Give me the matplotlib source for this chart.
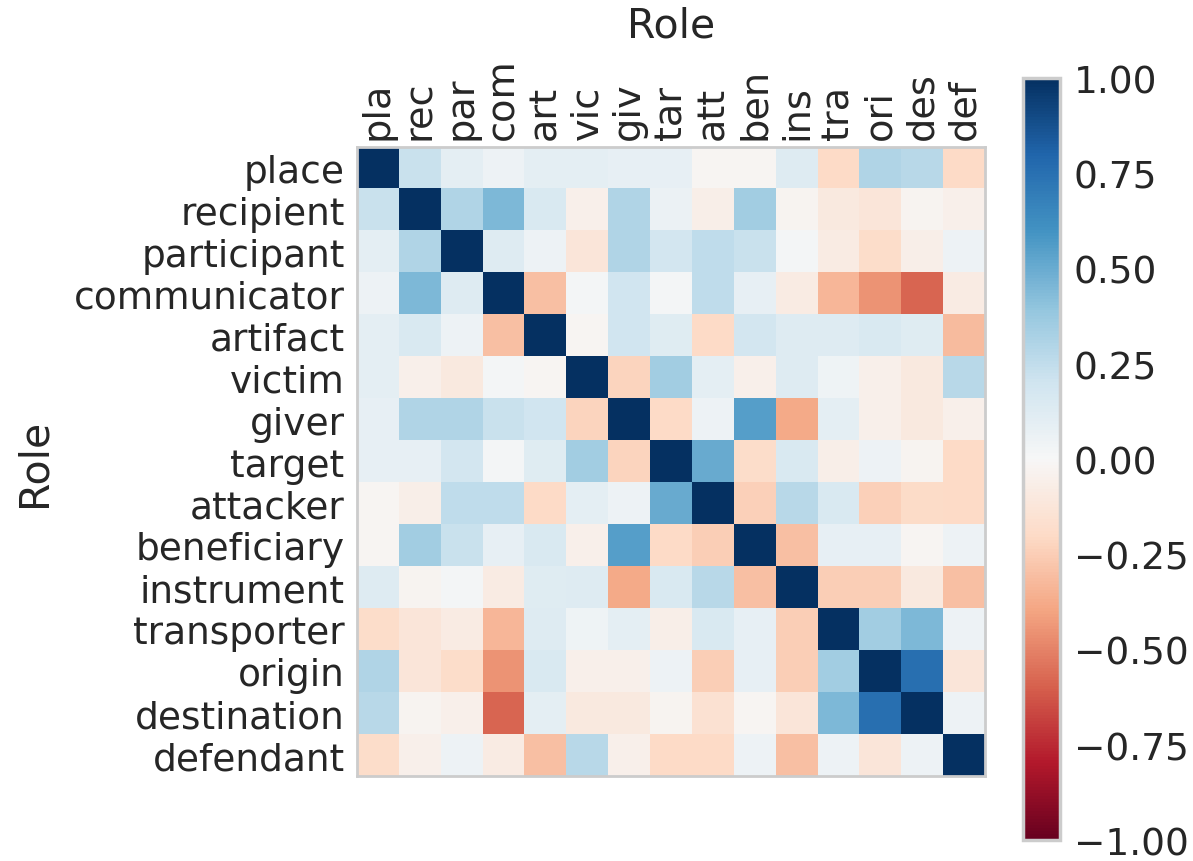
import numpy as np
import matplotlib
matplotlib.use("Agg")
import matplotlib.pyplot as plt
from matplotlib.ticker import FuncFormatter

# roles on both axes
roles = ["place", "recipient", "participant", "communicator", "artifact",
         "victim", "giver", "target", "attacker", "beneficiary",
         "instrument", "transporter", "origin", "destination", "defendant"]
short = [r[:3] for r in roles]

# correlation values (row = y role, col = x role)
r_place        = [1.00, 0.22, 0.10, 0.05, 0.10, 0.10, 0.08, 0.08, -0.02, -0.02, 0.13, -0.20, 0.30, 0.28, -0.20]
r_recipient    = [0.22, 1.00, 0.30, 0.45, 0.15, -0.05, 0.30, 0.06, -0.06, 0.35, -0.03, -0.10, -0.12, -0.03, -0.05]
r_participant  = [0.10, 0.30, 1.00, 0.13, 0.05, -0.12, 0.30, 0.18, 0.25, 0.22, 0.02, -0.08, -0.18, -0.06, 0.05]
r_communicator = [0.05, 0.45, 0.13, 1.00, -0.30, 0.02, 0.20, 0.02, 0.25, 0.08, -0.08, -0.33, -0.45, -0.58, -0.08]
r_artifact     = [0.10, 0.15, 0.05, -0.30, 1.00, -0.02, 0.20, 0.12, -0.20, 0.18, 0.13, 0.13, 0.15, 0.12, -0.32]
r_victim       = [0.10, -0.05, -0.10, 0.02, -0.02, 1.00, -0.22, 0.35, 0.10, -0.05, 0.13, 0.04, -0.05, -0.10, 0.28]
r_giver        = [0.08, 0.30, 0.30, 0.22, 0.20, -0.22, 1.00, -0.20, 0.05, 0.55, -0.38, 0.10, -0.05, -0.10, -0.05]
r_target       = [0.08, 0.08, 0.18, 0.02, 0.12, 0.35, -0.22, 1.00, 0.50, -0.18, 0.15, -0.06, 0.05, -0.03, -0.20]
r_attacker     = [-0.02, -0.06, 0.25, 0.25, -0.20, 0.10, 0.05, 0.50, 1.00, -0.24, 0.28, 0.15, -0.24, -0.19, -0.20]
r_beneficiary  = [-0.02, 0.35, 0.22, 0.08, 0.15, -0.05, 0.55, -0.20, -0.25, 1.00, -0.30, 0.08, 0.08, -0.02, 0.05]
r_instrument   = [0.13, -0.03, 0.02, -0.08, 0.12, 0.13, -0.38, 0.15, 0.28, -0.30, 1.00, -0.25, -0.25, -0.10, -0.30]
r_transporter  = [-0.18, -0.12, -0.08, -0.33, 0.13, 0.04, 0.10, -0.06, 0.15, 0.08, -0.25, 1.00, 0.35, 0.45, 0.05]
r_origin       = [0.30, -0.12, -0.18, -0.45, 0.15, -0.05, -0.05, 0.05, -0.25, 0.08, -0.25, 0.35, 1.00, 0.75, -0.12]
r_destination  = [0.28, -0.03, -0.05, -0.58, 0.10, -0.10, -0.10, -0.03, -0.15, -0.02, -0.12, 0.45, 0.75, 1.00, 0.05]
r_defendant    = [-0.18, -0.05, 0.05, -0.08, -0.30, 0.28, -0.05, -0.20, -0.20, 0.05, -0.30, 0.05, -0.12, 0.05, 1.00]

corr = np.array([r_place, r_recipient, r_participant, r_communicator, r_artifact,
                 r_victim, r_giver, r_target, r_attacker, r_beneficiary,
                 r_instrument, r_transporter, r_origin, r_destination, r_defendant])

cbar_ticks = [1.0, 0.75, 0.5, 0.25, 0.0, -0.25, -0.5, -0.75, -1.0]

txt = "#262626"
plt.rcParams["font.family"] = ["DejaVu Sans"]
plt.rcParams["text.color"] = txt
plt.rcParams["xtick.color"] = txt
plt.rcParams["ytick.color"] = txt
plt.rcParams["axes.labelcolor"] = txt

fig = plt.figure(figsize=(11.93, 8.62), dpi=100)
ax = fig.add_axes([0.2993, 0.0986, 0.5264, 0.7297])
cax = fig.add_axes([0.8575, 0.024, 0.031, 0.884])

im = ax.imshow(corr, cmap="RdBu", vmin=-1, vmax=1, interpolation="nearest", aspect="auto")

ax.xaxis.tick_top()
ax.xaxis.set_label_position("top")
ax.set_xticks(range(len(roles)))
ax.set_xticklabels(short, rotation=90, fontsize=27.5)
ax.set_yticks(range(len(roles)))
ax.set_yticklabels(roles, fontsize=27)
ax.tick_params(axis="x", length=0, pad=6)
ax.tick_params(axis="y", length=0, pad=9)
ax.set_xlabel("Role", fontsize=29.5, labelpad=15)
ax.set_ylabel("Role", fontsize=29.5, labelpad=14)
for s in ax.spines.values():
    s.set_color("#cccccc")
    s.set_linewidth(2)

cb = fig.colorbar(im, cax=cax)
cb.set_ticks(cbar_ticks)
cb.ax.yaxis.set_major_formatter(FuncFormatter(lambda v, p: f"{v:.2f}".replace("-", "\u2212")))
cb.ax.tick_params(labelsize=27, length=0, pad=10)
cb.outline.set_edgecolor("#cccccc")
cb.outline.set_linewidth(2.5)

fig.savefig("out.png", dpi=100)
